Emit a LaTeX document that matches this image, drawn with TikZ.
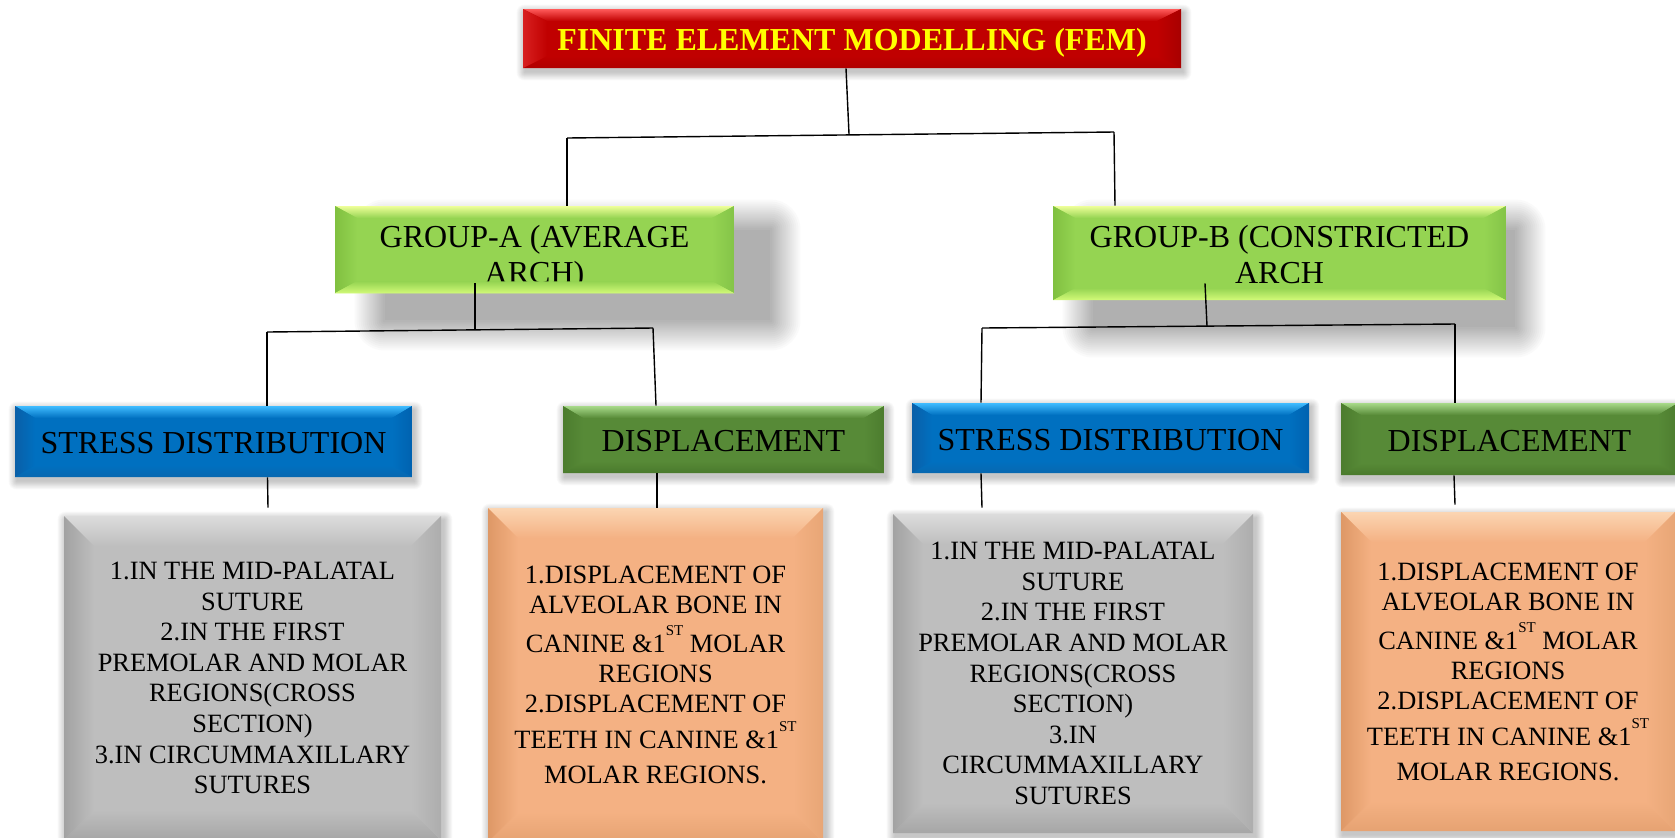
\documentclass[tikz,border=0pt]{standalone}
\usepackage{fontspec}
\setmainfont{Liberation Serif}
\usetikzlibrary{backgrounds,calc}

\newcommand{\sups}[1]{\raisebox{8.5pt}{\fontsize{7.5}{8}\selectfont #1}}

\definecolor{redB}{HTML}{C00000}
\definecolor{redT}{HTML}{FF5A5A}
\definecolor{redBo}{HTML}{B00000}
\definecolor{redL}{HTML}{D82020}
\definecolor{redR}{HTML}{A80000}
\definecolor{grnB}{HTML}{95D452}
\definecolor{grnT}{HTML}{EEFF99}
\definecolor{grnBo}{HTML}{D2FA78}
\definecolor{grnL}{HTML}{80C040}
\definecolor{grnR}{HTML}{84C448}
\definecolor{bluB}{HTML}{0070C0}
\definecolor{bluT}{HTML}{40BCFF}
\definecolor{bluBo}{HTML}{0868B0}
\definecolor{bluL}{HTML}{0A5FA8}
\definecolor{bluR}{HTML}{0062B0}
\definecolor{dgrB}{HTML}{578A37}
\definecolor{dgrT}{HTML}{A8DA8A}
\definecolor{dgrBo}{HTML}{4A7A2C}
\definecolor{dgrL}{HTML}{4C7C2E}
\definecolor{dgrR}{HTML}{4C7C2E}
\definecolor{gryB}{HTML}{BEBEBE}
\definecolor{gryT}{HTML}{DCDCDC}
\definecolor{gryBo}{HTML}{A6A6A6}
\definecolor{gryL}{HTML}{A2A2A2}
\definecolor{gryR}{HTML}{ADADAD}
\definecolor{orgB}{HTML}{F4B183}
\definecolor{orgT}{HTML}{FBD5B2}
\definecolor{orgBo}{HTML}{E6A272}
\definecolor{orgL}{HTML}{DE9866}
\definecolor{orgR}{HTML}{E8A676}
\definecolor{ylw}{HTML}{FFFF00}

% soft opaque shadow drawn on white: node, NW shift x,y, SE shift x,y, blur radius (pt number), darkness
\newcommand{\softshadow}[7]{%
  \foreach \ii in {0,...,15}{%
    \pgfmathsetmacro{\grw}{#6*(15-\ii)/15}%
    \pgfmathsetmacro{\shv}{#7*(\ii+1)/16}%
    \fill[black!\shv, rounded corners=\grw pt]
      ([shift={(#2-\grw pt,#3+\grw pt)}]#1.north west) rectangle
      ([shift={(#4+\grw pt,#5-\grw pt)}]#1.south east);
  }%
}

\tikzset{
  bev/.style n args={7}{
    rectangle, inner sep=0pt, fill=#3, align=center,
    path picture={
      \coordinate (bA) at (path picture bounding box.north west);
      \coordinate (bB) at (path picture bounding box.north east);
      \coordinate (bC) at (path picture bounding box.south east);
      \coordinate (bD) at (path picture bounding box.south west);
      \coordinate (iA) at ($(bA)+(#1,-#2)$);
      \coordinate (iB) at ($(bB)+(-#1,-#2)$);
      \coordinate (iC) at ($(bC)+(-#1,#2)$);
      \coordinate (iD) at ($(bD)+(#1,#2)$);
      \shade[top color=#4,bottom color=#3] (bA)--(bB)--(iB)--(iA)--cycle;
      \shade[top color=#3,bottom color=#5] (iD)--(iC)--(bC)--(bD)--cycle;
      \shade[left color=#6,right color=#3] (bA)--(iA)--(iD)--(bD)--cycle;
      \shade[left color=#3,right color=#7] (iB)--(bB)--(bC)--(iC)--cycle;
    }
  },
  titlebox/.style={bev={12pt}{6pt}{redB}{redT}{redBo}{redL}{redR},
    font=\fontsize{16}{19}\selectfont\bfseries, text=ylw},
  grpbox/.style={bev={11pt}{6pt}{grnB}{grnT}{grnBo}{grnL}{grnR},
    font=\fontsize{16}{18}\selectfont},
  stressbox/.style={bev={10pt}{6pt}{bluB}{bluT}{bluBo}{bluL}{bluR},
    font=\fontsize{16}{19}\selectfont},
  dispbox/.style={bev={10pt}{6pt}{dgrB}{dgrT}{dgrBo}{dgrL}{dgrR},
    font=\fontsize{16}{19}\selectfont},
  graybox/.style={bev={15pt}{15pt}{gryB}{gryT}{gryBo}{gryL}{gryR},
    font=\fontsize{13.2}{15.3}\selectfont},
  orangebox/.style={bev={15pt}{15pt}{orgB}{orgT}{orgBo}{orgL}{orgR},
    font=\fontsize{13.2}{15}\selectfont},
  conn/.style={draw=black, line width=0.7pt},
}

\begin{document}
\begin{tikzpicture}[x=0.5pt,y=-0.5pt]
\useasboundingbox (0,0) rectangle (1675,837);

% level 0
\node[titlebox, minimum width=329pt, minimum height=29.5pt] (title) at (852,38.5)
  {\rule{0pt}{15.6pt}FINITE ELEMENT MODELLING (FEM)};

% level 1
\node[grpbox, minimum width=199.5pt, minimum height=43.5pt] (grpA) at (534.5,249.5)
  {\rule{0pt}{19.8pt}GROUP-A (AVERAGE\\ARCH)};
\node[grpbox, minimum width=226.5pt, minimum height=47pt] (grpB) at (1279.5,253)
  {\rule{0pt}{12.5pt}GROUP-B (CONSTRICTED\\ARCH};

% level 2
\node[stressbox, minimum width=198.5pt, minimum height=35.5pt] (stressA) at (213.5,441.5) {\rule{0pt}{12.5pt}STRESS DISTRIBUTION};
\node[dispbox, minimum width=160.5pt, minimum height=33.5pt] (dispA) at (723.5,439.5) {\rule{0pt}{12.5pt}DISPLACEMENT};
\node[stressbox, minimum width=198.5pt, minimum height=35pt] (stressB) at (1110.5,438) {\rule{0pt}{12.5pt}STRESS DISTRIBUTION};
\node[dispbox, minimum width=168.5pt, minimum height=36pt] (dispB) at (1509.5,439) {\rule{0pt}{12.5pt}DISPLACEMENT};

% level 3
\node[graybox, minimum width=188.5pt, minimum height=162pt] (grayA) at (252.5,678)
  {1.IN THE MID-PALATAL\\SUTURE\\2.IN THE FIRST\\PREMOLAR AND MOLAR\\REGIONS(CROSS\\SECTION)\\3.IN CIRCUMMAXILLARY\\SUTURES};
\node[orangebox, minimum width=167.5pt, minimum height=167pt] (orgA) at (655.5,675)
  {1.DISPLACEMENT OF\\ALVEOLAR BONE IN\\[4.5pt]CANINE \&1\sups{ST} MOLAR\\REGIONS\\2.DISPLACEMENT OF\\[3pt]TEETH IN CANINE \&1\sups{ST}\\[2.5pt]MOLAR REGIONS.};
\node[graybox, minimum width=180pt, minimum height=159.5pt] (grayB) at (1073,673.5)
  {1.IN THE MID-PALATAL\\SUTURE\\2.IN THE FIRST\\PREMOLAR AND MOLAR\\REGIONS(CROSS\\SECTION)\\3.IN\\CIRCUMMAXILLARY\\SUTURES};
\node[orangebox, minimum width=167pt, minimum height=159.5pt] (orgB) at (1508,671.5)
  {1.DISPLACEMENT OF\\ALVEOLAR BONE IN\\[4.5pt]CANINE \&1\sups{ST} MOLAR\\REGIONS\\2.DISPLACEMENT OF\\[3pt]TEETH IN CANINE \&1\sups{ST}\\[2.5pt]MOLAR REGIONS.};

% clipped bottom of GROUP-A text (bevel drawn over it)
\shade[top color=grnB,bottom color=grnBo]
  ([shift={(11pt,6pt)}]grpA.south west) -- ([shift={(-11pt,6pt)}]grpA.south east)
  -- (grpA.south east) -- (grpA.south west) -- cycle;

% junction coordinates
\coordinate (j0) at (849,134);
\coordinate (jL) at (567,138);
\coordinate (jR) at (1114,132);
\coordinate (kA) at (475,330);
\coordinate (kAl) at (267,332);
\coordinate (kAr) at (653,328);
\coordinate (kB) at (1207,326);
\coordinate (kBl) at (982,328);
\coordinate (kBr) at (1455,324);

% connectors
\draw[conn] ([xshift=-3pt]title.south) -- (j0);
\draw[conn] (jL) -- (jR);
\draw[conn] (jL) -- (jL |- grpA.north);
\draw[conn] (jR) -- ([xshift=0.5pt]jR |- grpB.north);

\draw[conn] ([shift={(-29.75pt,5pt)}]grpA.south) -- (kA);
\draw[conn] (kAl) -- (kAr);
\draw[conn] (kAl) -- (kAl |- stressA.north);
\draw[conn] (kAr) -- ([xshift=1.5pt]kAr |- dispA.north);

\draw[conn] ([shift={(-37.25pt,8.5pt)}]grpB.south) -- (kB);
\draw[conn] (kBl) -- (kBr);
\draw[conn] (kBl) -- ([xshift=-0.5pt]kBl |- stressB.north);
\draw[conn] (kBr) -- (kBr |- dispB.north);

\draw[conn] ([xshift=27pt]stressA.south) -- ([shift={(7.75pt,4pt)}]grayA.north);
\draw[conn] ([xshift=-33.25pt]dispA.south) -- ([xshift=0.75pt]orgA.north);
\draw[conn] ([xshift=-64.75pt]stressB.south) -- ([shift={(-45.5pt,3pt)}]grayB.north);
\draw[conn] ([xshift=-27.75pt]dispB.south) -- ([shift={(-26.5pt,3.5pt)}]orgB.north);

% background and shadows
\begin{scope}[on background layer]
  \fill[white] (0,0) rectangle (1675,837);
  \softshadow{grpA}{25pt}{-12pt}{18pt}{-13.5pt}{15}{31}
  \softshadow{grpB}{20pt}{-12pt}{4.5pt}{-13.5pt}{15}{31}
  \softshadow{title}{1pt}{-2pt}{1pt}{-2pt}{4}{22}
  \softshadow{stressA}{1pt}{-2pt}{1pt}{-2pt}{4}{22}
  \softshadow{dispA}{1pt}{-2pt}{1pt}{-2pt}{4}{22}
  \softshadow{stressB}{1pt}{-2pt}{1pt}{-2pt}{4}{22}
  \softshadow{dispB}{1pt}{-2pt}{1pt}{-2pt}{4}{22}
  \softshadow{grayA}{1pt}{-2pt}{1.5pt}{-2pt}{4}{22}
  \softshadow{orgA}{1pt}{-2pt}{1.5pt}{-2pt}{4}{22}
  \softshadow{grayB}{1pt}{-2pt}{1.5pt}{-2pt}{4}{22}
  \softshadow{orgB}{1pt}{-2pt}{1.5pt}{-2pt}{4}{22}
\end{scope}
\end{tikzpicture}
\end{document}
